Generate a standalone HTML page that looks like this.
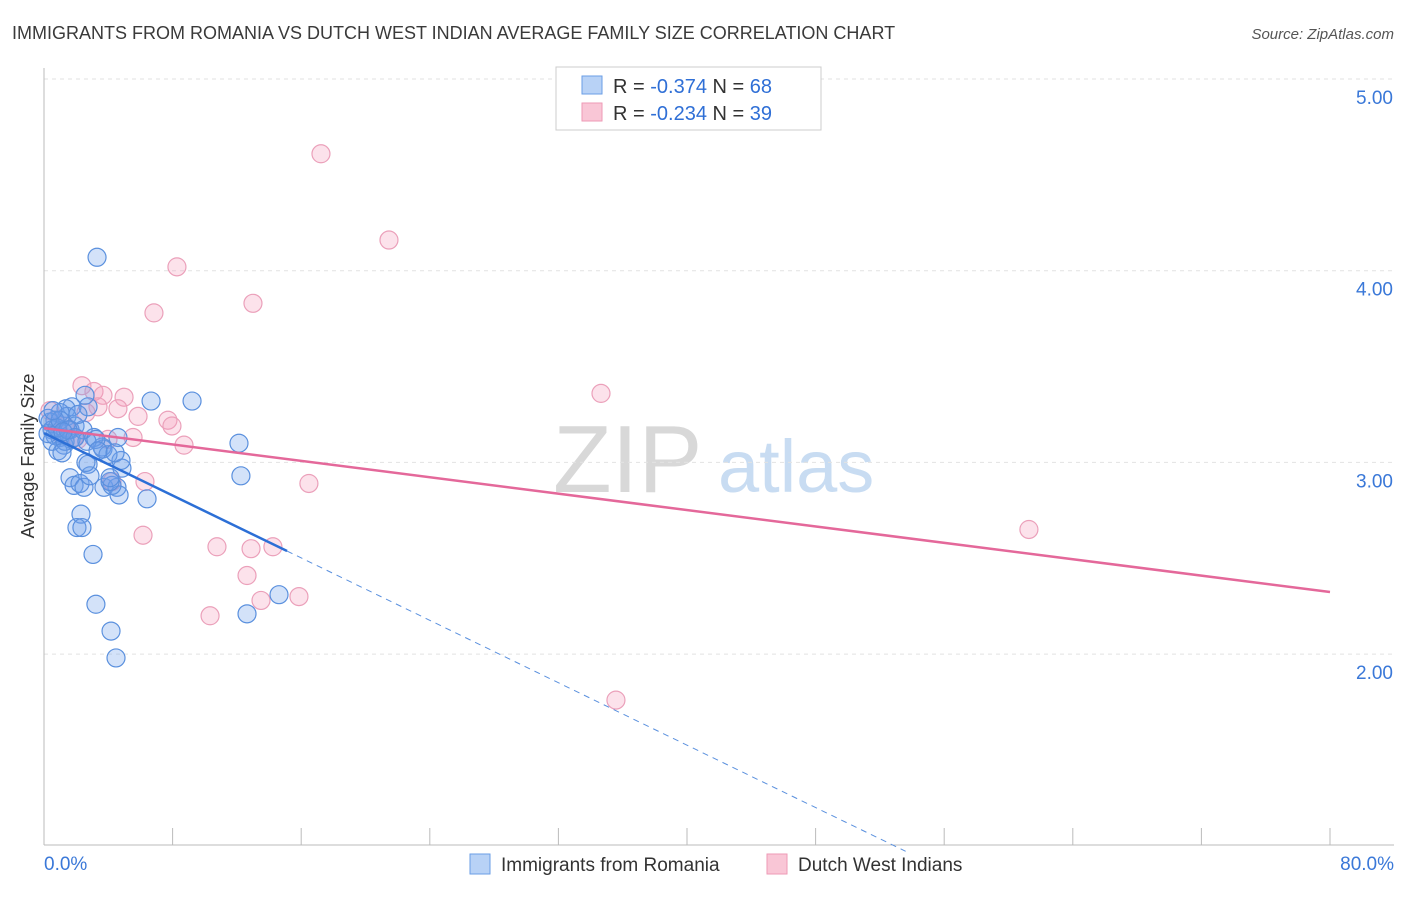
<!DOCTYPE html>
<html><head><meta charset="utf-8"><style>
body{margin:0;background:#fff;font-family:"Liberation Sans",sans-serif;}
svg text{font-family:"Liberation Sans",sans-serif;}
</style></head><body>
<svg id="chart" width="1406" height="892">
<text x="12" y="39" font-size="18" fill="#3a3a3a">IMMIGRANTS FROM ROMANIA VS DUTCH WEST INDIAN AVERAGE FAMILY SIZE CORRELATION CHART</text>
<text x="1394" y="39" font-size="15" fill="#555" text-anchor="end" font-style="italic">Source: ZipAtlas.com</text>
<g>
<text x="553" y="492" font-size="96" fill="#d8d8d8" font-family="Liberation Serif">ZIP</text>
<text x="718" y="492" font-size="74" fill="#c8dcf2">atlas</text>
</g>
<g id="grid"></g>
<g id="axes"></g>
<g id="pts"></g>
<g id="trends"></g>
<text x="34" y="456" font-size="18" fill="#333" text-anchor="middle" transform="rotate(-90 34 456)">Average Family Size</text>
<g>
<rect x="556" y="67" width="265" height="63" fill="#fff" stroke="#ccc"/>
<rect x="582" y="76" width="20" height="18" fill="#b8d2f6" stroke="#6a9ee6"/>
<rect x="582" y="103" width="20" height="18" fill="#f9c6d6" stroke="#ee9ab6"/>
<text x="613" y="93" font-size="20" fill="#333">R = <tspan fill="#2f6fd6">-0.374</tspan>   N = <tspan fill="#2f6fd6">68</tspan></text>
<text x="613" y="120" font-size="20" fill="#333">R = <tspan fill="#2f6fd6">-0.234</tspan>   N = <tspan fill="#2f6fd6">39</tspan></text>
</g>
<g>
<rect x="470" y="854" width="20" height="20" fill="#b8d2f6" stroke="#6a9ee6"/>
<text x="501" y="871" font-size="19" fill="#333">Immigrants from Romania</text>
<rect x="767" y="854" width="20" height="20" fill="#f9c6d6" stroke="#ee9ab6"/>
<text x="798" y="871" font-size="19" fill="#333">Dutch West Indians</text>
</g>
</svg>
<script>
const blueX=[3.30,6.66,9.21,12.13,12.25,6.41,3.05,3.23,4.17,4.48,12.63,14.62,2.30,2.05,2.36,1.62,1.87,2.24,2.74,2.49,2.86,3.73,4.54,4.67,4.85,4.79,3.67,4.60,3.61,3.11,2.74,1.74,1.37,1.43,1.00,0.68,0.37,0.50,0.68,1.00,1.24,0.87,0.50,0.25,1.62,1.93,1.68,1.31,2.43,2.67,1.12,0.81,0.25,4.23,4.11,3.23,3.98,1.00,1.49,1.93,0.56,2.11,1.18,2.61,3.36,4.42,2.55,4.11];
const blueY=[4.07,3.32,3.32,3.10,2.93,2.81,2.52,2.26,2.12,1.98,2.21,2.31,2.73,2.66,2.66,2.92,2.88,2.89,2.99,2.87,2.93,2.87,2.87,2.83,2.97,3.01,3.07,3.13,3.08,3.13,3.29,3.29,3.28,3.24,3.26,3.22,3.21,3.17,3.14,3.13,3.09,3.06,3.11,3.15,3.17,3.19,3.12,3.11,3.17,3.11,3.05,3.18,3.23,2.88,2.90,3.12,3.04,3.22,3.17,3.13,3.27,3.25,3.16,3.00,3.06,3.05,3.35,2.92];
const pinkX=[17.23,21.46,8.27,13.00,6.84,34.65,2.36,3.11,3.67,4.98,4.60,3.36,2.61,5.85,7.71,7.96,8.71,5.54,3.98,1.87,1.00,0.68,6.28,16.48,6.16,10.76,12.88,14.24,12.63,13.50,15.86,10.33,35.58,61.27,1.62,0.37,1.31,4.23,2.11];
const pinkY=[4.61,4.16,4.02,3.83,3.78,3.36,3.40,3.37,3.35,3.34,3.28,3.29,3.26,3.24,3.22,3.19,3.09,3.13,3.12,3.13,3.15,3.22,2.90,2.89,2.62,2.56,2.55,2.56,2.41,2.28,2.30,2.20,1.76,2.65,3.17,3.27,3.19,2.90,3.12];
const yTicks=[2,3,4,5];
const yTickLabels=["2.00","3.00","4.00","5.00"];
const xTicks=[0,8,16,24,32,40,48,56,64,72,80];
const blueTrend=[3.153,-0.0407];
const pinkTrend=[3.179,-0.01069];
const NS="http://www.w3.org/2000/svg";
const X=v=>44+v/80*1286;
const Y=v=>79+(5-v)*191.7;
function mk(t,a,p){const e=document.createElementNS(NS,t);for(const k in a)e.setAttribute(k,a[k]);p.appendChild(e);return e;}
const grid=document.getElementById('grid'),axes=document.getElementById('axes');
yTicks.forEach((t,i)=>{
 const l=mk('line',{x1:44,x2:1394,y1:Y(t),y2:Y(t),stroke:'#e2e2e2','stroke-dasharray':'4,4'},grid);
 
 
 const tx=mk('text',{x:1393,y:Y(t)+25,'font-size':19,fill:'#3a78d8','text-anchor':'end'},axes);
 tx.textContent=yTickLabels[i];
 
 
});
const ya=mk('line',{x1:44,x2:44,y1:68,y2:845,stroke:'#bbb'},axes);


const xa=mk('line',{x1:44,x2:1394,y1:845,y2:845,stroke:'#bbb'},axes);


xTicks.forEach(t=>{
 const l=mk('line',{x1:X(t),x2:X(t),y1:828,y2:845,stroke:'#bbb'},axes);
 
 
});
const xl0=mk('text',{x:44,y:870,'font-size':19,fill:'#3a78d8'},axes);xl0.textContent='0.0%';


const xl1=mk('text',{x:1394,y:870,'font-size':19,fill:'#3a78d8','text-anchor':'end'},axes);xl1.textContent='80.0%';


const pts=document.getElementById('pts');
pinkX.forEach((x,i)=>{
 const c=mk('circle',{cx:X(x),cy:Y(pinkY[i]),r:9,fill:'rgba(244,160,188,0.3)',stroke:'#eba0ba','stroke-width':1.2},pts);
 
 
});
blueX.forEach((x,i)=>{
 const c=mk('circle',{cx:X(x),cy:Y(blueY[i]),r:9,fill:'rgba(110,160,235,0.3)',stroke:'#5a90de','stroke-width':1.2},pts);
 
 
});
const tr=document.getElementById('trends');
const f=(tt,x)=>tt[0]+tt[1]*x;
const b1=mk('line',{x1:X(0),y1:Y(f(blueTrend,0)),x2:X(15.12),y2:Y(f(blueTrend,15.12)),stroke:'#2c6fd6','stroke-width':2.5},tr);


const b2=mk('line',{x1:X(15.12),y1:Y(f(blueTrend,15.12)),x2:X(53.6),y2:Y(f(blueTrend,53.6)),stroke:'#5a90de','stroke-width':1,'stroke-dasharray':'6,5'},tr);


const p1=mk('line',{x1:X(0),y1:Y(f(pinkTrend,0)),x2:X(80),y2:Y(f(pinkTrend,80)),stroke:'#e4689a','stroke-width':2.5},tr);


</script>
</body></html>
